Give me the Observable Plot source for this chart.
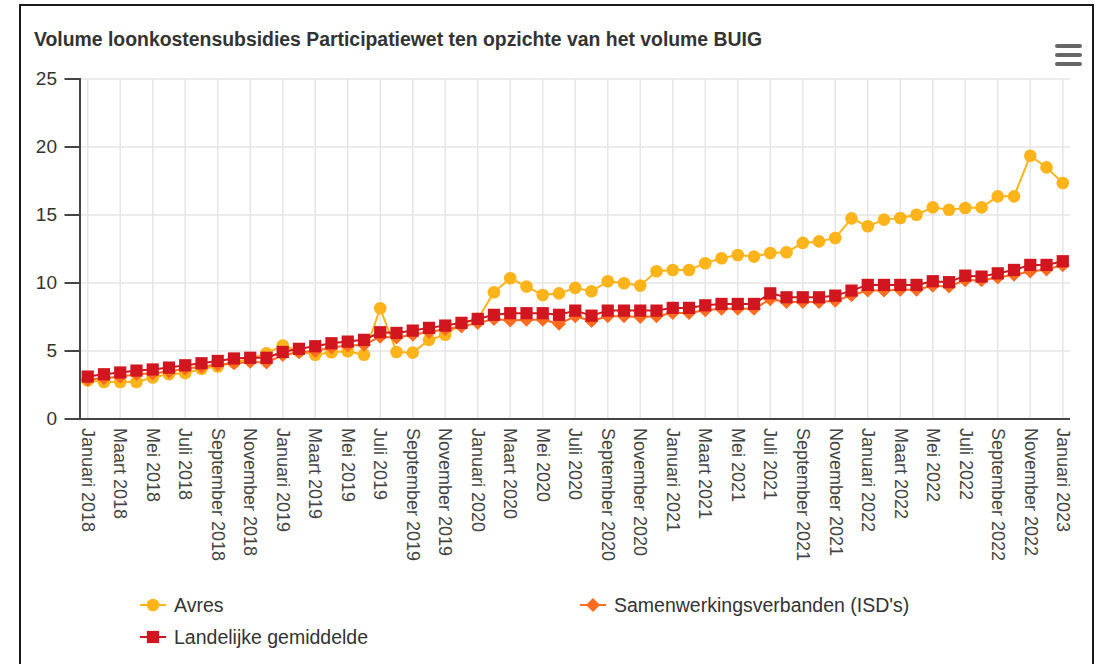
<!DOCTYPE html>
<html>
<head>
<meta charset="utf-8">
<script src="https://cdn.jsdelivr.net/npm/d3@7"></script>
<script src="https://cdn.jsdelivr.net/npm/@observablehq/plot@0.6"></script>
<style>
html, body { margin: 0; padding: 0; overflow: hidden; background: #fff; width: 1106px; height: 664px; }
body { font-family: "Liberation Sans", Arial, sans-serif; position: relative; }
#frame { position: absolute; left: 19px; top: 4px; width: 1075px; height: 740px; border: 2px solid #1a1a1a; box-sizing: border-box; }
#title { position: absolute; left: 34px; top: 28px; font-size: 19.4px; font-weight: bold; color: #333; white-space: nowrap; }
#menu { position: absolute; left: 1055px; top: 44px; width: 27px; }
#menu div { height: 4px; background: #666; border-radius: 2px; margin-bottom: 5px; }
#chart { position: absolute; left: 0; top: 0; }
.leg { position: absolute; display: flex; align-items: center; font-size: 19.5px; color: #333; white-space: nowrap; }
.leg svg { margin-right: 8px; }
</style>
</head>
<body>
<div id="frame"></div>
<div id="title">Volume loonkostensubsidies Participatiewet ten opzichte van het volume BUIG</div>
<div id="menu"><div></div><div></div><div></div></div>
<div id="chart"></div>
<div id="legend"></div>
<script>
const monthNames = ["Januari", "Februari", "Maart", "April", "Mei", "Juni", "Juli", "Augustus", "September", "Oktober", "November", "December"];
const years = [2018, 2019, 2020, 2021, 2022, 2023];
const months = years.flatMap(y => monthNames.map(m => `${m} ${y}`)).slice(0, 61);
const tickLabels = months.filter((d, i) => i % 2 === 0);
const yTicks = [0, 5, 10, 15, 20, 25];

const avres = [2.83, 2.72, 2.72, 2.72, 3.05, 3.3, 3.37, 3.69, 3.86, 4.17, 4.42, 4.84, 5.4, 4.98, 4.72, 4.91, 4.98, 4.72, 8.14, 4.93, 4.88, 5.82, 6.2, 7.0, 7.36, 9.32, 10.35, 9.74, 9.12, 9.24, 9.64, 9.39, 10.13, 9.98, 9.81, 10.86, 10.96, 10.96, 11.45, 11.82, 12.06, 11.94, 12.21, 12.26, 12.95, 13.06, 13.31, 14.75, 14.17, 14.66, 14.78, 15.02, 15.56, 15.39, 15.52, 15.56, 16.37, 16.37, 19.36, 18.5, 17.35];
const samenwerking = [2.9, 3.0, 3.1, 3.3, 3.35, 3.5, 3.7, 3.85, 4.0, 4.1, 4.2, 4.15, 4.7, 4.9, 5.0, 5.25, 5.4, 5.45, 6.05, 6.0, 6.2, 6.4, 6.6, 6.8, 7.05, 7.35, 7.25, 7.3, 7.3, 7.0, 7.55, 7.2, 7.55, 7.55, 7.5, 7.55, 7.8, 7.8, 8.0, 8.1, 8.1, 8.1, 8.8, 8.6, 8.6, 8.6, 8.7, 9.1, 9.45, 9.45, 9.5, 9.5, 9.8, 9.75, 10.2, 10.2, 10.4, 10.6, 10.85, 11.0, 11.3];
const landelijk = [3.12, 3.29, 3.42, 3.56, 3.64, 3.78, 3.95, 4.1, 4.27, 4.45, 4.5, 4.5, 4.93, 5.16, 5.35, 5.57, 5.69, 5.82, 6.38, 6.33, 6.5, 6.7, 6.87, 7.07, 7.36, 7.66, 7.78, 7.78, 7.78, 7.66, 7.97, 7.6, 7.97, 7.97, 7.97, 7.97, 8.17, 8.17, 8.36, 8.46, 8.46, 8.46, 9.24, 8.95, 8.95, 8.95, 9.07, 9.44, 9.86, 9.86, 9.86, 9.86, 10.13, 10.06, 10.54, 10.47, 10.71, 10.96, 11.33, 11.33, 11.6];

const seriesNames = ["Avres", "Samenwerkingsverbanden (ISD's)", "Landelijke gemiddelde"];
const seriesColors = ["#fdb41b", "#ff6b1f", "#d2161f"];
const seriesSymbols = ["circle", "diamond2", "square"];
const seriesR = [6.3, 6.3, 6.9];
const seriesValues = [avres, samenwerking, landelijk];

const rows = seriesValues.map(vals => months.map((m, i) => ({month: m, value: vals[i]})));

const marks = [
  Plot.gridY(yTicks, {stroke: "#e6e6e6", strokeOpacity: 1, strokeWidth: 1.5}),
  Plot.gridX(tickLabels, {stroke: "#e6e6e6", strokeOpacity: 1, strokeWidth: 1.5}),
  Plot.axisY(yTicks, {tickSize: 15, tickPadding: 8, stroke: "#444", strokeWidth: 2, fill: "#333", fontSize: 19, label: null}),
  Plot.axisX(tickLabels, {tickSize: 0, tickRotate: 90, tickPadding: 9, fill: "#444", fontSize: 18, label: null}),
  Plot.frame({anchor: "left", stroke: "#444", strokeWidth: 2}),
  Plot.ruleY([0], {stroke: "#444", strokeWidth: 2})
];
seriesValues.forEach((vals, k) => {
  marks.push(Plot.line(rows[k], {x: "month", y: "value", stroke: seriesColors[k], strokeWidth: 2}));
  marks.push(Plot.dot(rows[k], {x: "month", y: "value", fill: seriesColors[k], symbol: seriesSymbols[k], r: seriesR[k]}));
});

const chart = Plot.plot({
  width: 1106,
  height: 580,
  marginLeft: 79.5,
  marginRight: 36,
  marginTop: 78.5,
  marginBottom: 161.5,
  style: {fontFamily: "'Liberation Sans', Arial, sans-serif", fontSize: "18px", color: "#333", background: "transparent"},
  x: {type: "point", domain: months, padding: 0.475, round: false},
  y: {domain: [0, 25]},
  marks
});
document.getElementById("chart").appendChild(chart);

// Legend
const legendPos = [[140, 593], [580, 593], [140, 625]];
const legend = document.getElementById("legend");
seriesNames.forEach((name, k) => {
  const el = document.createElement("div");
  el.className = "leg";
  el.style.left = legendPos[k][0] + "px";
  el.style.top = legendPos[k][1] + "px";
  const sym = d3.symbol(k === 0 ? d3.symbolCircle : k === 1 ? d3.symbolDiamond2 : d3.symbolSquare, seriesR[k] * seriesR[k] * Math.PI)();
  el.innerHTML = `<svg width="26" height="24"><line x1="0" x2="26" y1="12" y2="12" stroke="${seriesColors[k]}" stroke-width="2"/><path d="${sym}" transform="translate(13,12)" fill="${seriesColors[k]}"/></svg><span>${name}</span>`;
  legend.appendChild(el);
});
</script>
</body>
</html>
